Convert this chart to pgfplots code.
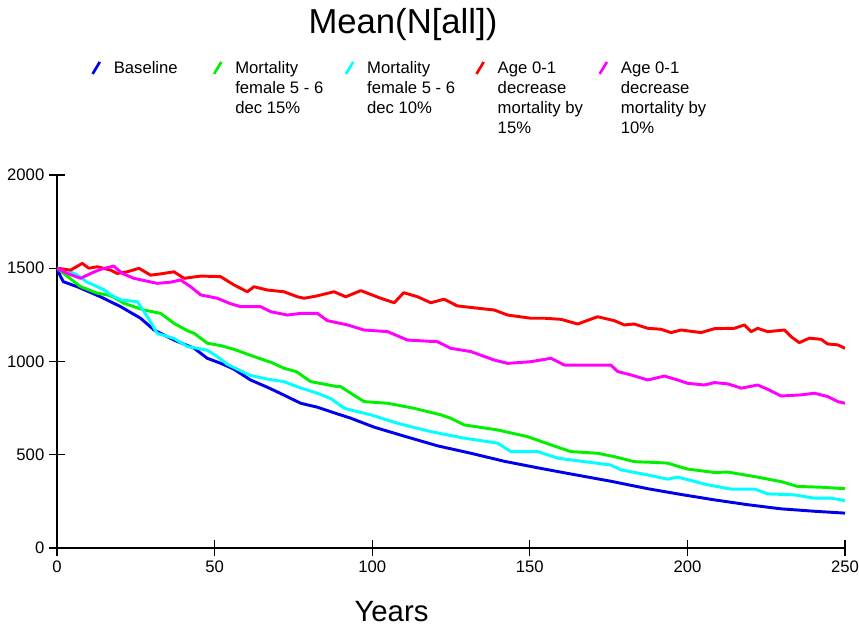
\documentclass[border=0pt]{standalone}
\usepackage{pgfplots}
\pgfplotsset{compat=1.18}
\usepackage{fontspec}
\setmainfont{Liberation Sans}
\definecolor{cBlue}{RGB}{0,0,235}
\definecolor{cGreen}{RGB}{0,240,0}
\definecolor{cCyan}{RGB}{0,255,255}
\definecolor{cRed}{RGB}{255,0,0}
\definecolor{cMag}{RGB}{255,0,255}
\begin{document}
\begin{tikzpicture}
\useasboundingbox (-42.75pt,-59.25pt) rectangle (601.5pt,411pt);
\begin{axis}[
  at={(0,0)}, anchor=south west,
  width=591pt, height=279.75pt, scale only axis,
  xmin=0, xmax=250, ymin=0, ymax=2000,
  axis lines=left,
  axis line style={-, line width=1.1pt, black},
  xtick={0,50,...,250}, ytick={0,500,...,2000},
  tick align=center, major tick length=12pt,
  tick style={line width=1pt, black},
  minor tick num=0,
  /pgf/number format/assume math mode=true,
  /pgf/number format/1000 sep={},
  ticklabel style={font=\fontsize{12.5}{15}\selectfont},
  title={Mean(N[all])},
  title style={font=\fontsize{26}{30}\selectfont, at={(axis description cs:0.439,1)}, anchor=base, yshift=100pt},
  xlabel={Years},
  xlabel style={font=\fontsize{22}{26}\selectfont, at={(axis description cs:0.4245,0)}, anchor=base, yshift=-55pt},
  legend columns=5,
  legend style={at={(axis description cs:0,1)}, anchor=north west, xshift=25.5pt, yshift=86pt,
    draw=none, fill=none, inner sep=0pt,
    nodes={inner sep=0pt},
    cells={anchor=base west},
    font=\fontsize{12.5}{15}\selectfont,
    /tikz/every odd column/.style={column sep=9.5pt}},
  legend image code/.code={\draw[#1, line width=2pt] (0.8pt,0pt) -- (6.2pt,9pt);},
  every axis plot/.append style={line width=2.2pt, line join=round},
]
\addplot[cBlue] coordinates {(0,1500)(1,1460)(2,1428)(6.4,1401)(13.8,1347)(20.2,1294)(26.5,1232)(30.8,1169)(37.1,1115)(43.5,1071)(47.7,1017)(52,990)(56,960)(61.4,901)(67,860)(72,820)(77.3,776)(82.6,755)(87.9,725)(93.2,696)(100.6,648)(110.1,600)(120.7,548)(131.3,508)(141.9,465)(152.5,430)(163,397)(175.7,358)(187.4,318)(198,287)(208.6,258)(219.2,232)(229.7,210)(240.3,197)(250,187)};
\addlegendentry{\parbox[t]{74.25pt}{\raggedright Baseline}}
\addplot[cGreen] coordinates {(0,1500)(3,1460)(7.5,1401)(12.8,1366)(16,1357)(18,1345)(21.2,1312)(27.6,1276)(32.9,1258)(37.1,1205)(41.4,1165)(43.5,1151)(47.7,1098)(52,1085)(56.2,1065)(63.6,1020)(68,995)(72,964)(76,945)(80.5,892)(89,865)(90,865)(93.2,830)(97.4,785)(104.9,776)(113.3,749)(121.8,714)(124.9,696)(129.2,660)(139.8,633)(149.3,597)(156.7,553)(163,517)(171.5,508)(176.8,490)(183.1,463)(190.6,458)(193.7,455)(200.1,423)(208.6,405)(212.8,407)(221.3,383)(229.7,356)(235,330)(242.4,326)(250,318)};
\addlegendentry{\parbox[t]{82pt}{\raggedright Mortality\\female 5 - 6\\dec 15\%}}
\addplot[cCyan] coordinates {(0,1500)(3,1490)(6.4,1464)(9.6,1425)(14.9,1385)(17,1358)(20.2,1330)(25.5,1321)(28.7,1240)(31.8,1151)(37.1,1124)(41.4,1080)(44.5,1071)(47.7,1060)(50.9,1026)(54,985)(61.4,925)(67,905)(72,892)(77,860)(82.6,830)(87,800)(91.1,750)(93.2,740)(99.6,714)(108,669)(118.6,624)(129.2,589)(139.8,562)(144,517)(152.5,517)(158.8,482)(167.3,463)(175.7,445)(178.9,419)(187.4,392)(193.7,369)(196.9,380)(206.4,339)(213.8,316)(221.3,316)(225.5,290)(233.9,285)(240.3,267)(245.6,267)(250,254)};
\addlegendentry{\parbox[t]{81pt}{\raggedright Mortality\\female 5 - 6\\dec 10\%}}
\addplot[cRed] coordinates {(0,1500)(4.3,1490)(8,1526)(10.1,1500)(12.8,1508)(17,1490)(19.1,1472)(22.3,1481)(26,1500)(29.7,1463)(33,1470)(37.1,1481)(40.3,1446)(45.6,1458)(51.9,1455)(56.2,1410)(60.4,1374)(62.5,1401)(66.8,1383)(72,1374)(76.3,1347)(78.4,1339)(82,1350)(87.9,1374)(91.6,1347)(96.4,1380)(102.7,1339)(107,1315)(110,1369)(114.4,1347)(118.6,1315)(122.8,1334)(127,1298)(138.7,1276)(143,1249)(150.3,1232)(154.6,1232)(159.9,1226)(165.2,1201)(171.5,1240)(176.8,1219)(180,1196)(183.1,1201)(187.4,1178)(191.6,1173)(194.8,1155)(198,1169)(204.3,1155)(208.6,1176)(214.9,1178)(218.1,1196)(220.2,1160)(222.3,1178)(225.5,1160)(230.8,1169)(232.9,1133)(235.5,1101)(238.7,1125)(242.4,1119)(244.5,1094)(247.7,1089)(250,1071)};
\addlegendentry{\parbox[t]{75.5pt}{\raggedright Age 0-1\\decrease\\mortality by\\15\%}}
\addplot[cMag] coordinates {(0,1500)(3.3,1472)(7.5,1446)(10.7,1472)(13.8,1494)(18,1512)(20.7,1472)(24.4,1446)(31.8,1419)(36,1425)(39.2,1437)(42.4,1401)(45.6,1357)(50.9,1339)(55,1310)(58.3,1294)(64.6,1294)(67.8,1267)(73.1,1249)(77.3,1258)(82.6,1258)(85.8,1219)(92.2,1196)(97.4,1169)(104.9,1160)(111.2,1115)(120.7,1106)(124.9,1071)(131.3,1053)(138.7,1008)(143,990)(150.3,999)(156.7,1017)(161,981)(169.4,981)(175.7,981)(177.9,946)(182.1,928)(187.4,901)(192.7,922)(196.9,901)(200.1,883)(205.4,874)(208.6,887)(212.8,880)(217.1,857)(222.3,874)(225.5,851)(229.7,815)(236.1,821)(240.3,830)(244.5,812)(247.7,785)(250,776)};
\addlegendentry{\parbox[t]{70pt}{\raggedright Age 0-1\\decrease\\mortality by\\10\%}}
\end{axis}
\end{tikzpicture}
\end{document}
